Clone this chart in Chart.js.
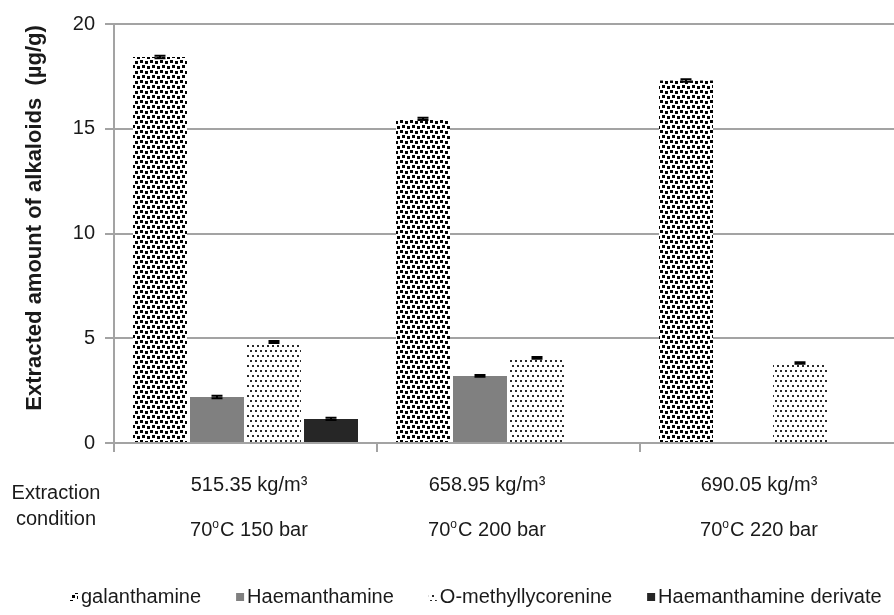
<!DOCTYPE html>
<html>
<head>
<meta charset="utf-8">
<style>
  html, body { margin: 0; padding: 0; background: #ffffff; overflow: hidden; }
  canvas { display: block; }
</style>
<script src="https://cdn.jsdelivr.net/npm/chart.js@4.4.1/dist/chart.umd.min.js"></script>
</head>
<body>
<canvas id="chart" width="912" height="615"></canvas>
<script>
// ---- data ----
const densities = ['515.35', '658.95', '690.05'];
const temperatures = [70, 70, 70];
const pressures = [150, 200, 220];
const rowTitle = ['Extraction', 'condition'];
const seriesNames = ['galanthamine', 'Haemanthamine', 'O-methyllycorenine', 'Haemanthamine derivate'];

const galanthamine = [18.42, 15.47, 17.30];
const haemanthamine = [2.20, 3.20, null];
const oMethyllycorenine = [4.82, 4.06, 3.82];
const haemanthamineDerivate = [1.15, null, null];

const galanthamineErr = [0.06, 0.05, 0.06];
const haemanthamineErr = [0.06, 0.04, null];
const oMethyllycorenineErr = [0.05, 0.04, 0.04];
const haemanthamineDerivateErr = [0.05, null, null];

const yTickValues = [0, 5, 10, 15, 20];
const yAxisTitle = 'Extracted amount of alkaloids  (\u00b5g/g)';

// ---- styling ----
const FONT = '"Liberation Sans", Arial, sans-serif';
const TEXT = '#1a1a1a';
const GRID = '#a3a3a3';

function makePattern(size, squares, sq, color) {
  const c = document.createElement('canvas');
  c.width = size; c.height = size;
  const g = c.getContext('2d');
  g.fillStyle = '#ffffff';
  g.fillRect(0, 0, size, size);
  g.fillStyle = color;
  squares.forEach(([x, y]) => g.fillRect(x, y, sq, sq));
  return g.createPattern(c, 'repeat');
}

const densePattern = makePattern(10, [[0, 0], [5, 1], [2, 5], [7, 6]], 3, '#000000');
const sparsePattern = makePattern(10, [[0, 0], [5, 0], [2, 5], [7, 5]], 2, '#2a2a2a');

const fills = [densePattern, '#808080', sparsePattern, '#262626'];
const values = [galanthamine, haemanthamine, oMethyllycorenine, haemanthamineDerivate];
const errors = [galanthamineErr, haemanthamineErr, oMethyllycorenineErr, haemanthamineDerivateErr];

const categories = densities.map(d => d + ' kg/m\u00b3');

// error bars with caps
const errorBars = {
  id: 'errorBars',
  afterDatasetsDraw(chart) {
    const ctx = chart.ctx;
    const y = chart.scales.y;
    ctx.save();
    ctx.strokeStyle = '#000000';
    ctx.lineWidth = 2;
    chart.data.datasets.forEach((ds, di) => {
      const meta = chart.getDatasetMeta(di);
      meta.data.forEach((bar, i) => {
        const v = ds.data[i];
        const e = errors[di][i];
        if (v == null || e == null) return;
        const top = y.getPixelForValue(v + e);
        const bot = y.getPixelForValue(v - e);
        const half = 5.5;
        ctx.beginPath();
        ctx.moveTo(bar.x, top); ctx.lineTo(bar.x, bot);
        ctx.moveTo(bar.x - half, top); ctx.lineTo(bar.x + half, top);
        ctx.moveTo(bar.x - half, bot); ctx.lineTo(bar.x + half, bot);
        ctx.stroke();
      });
    });
    ctx.restore();
  }
};

// axis title, condition rows, legend
const annotations = {
  id: 'annotations',
  afterDraw(chart) {
    const ctx = chart.ctx;
    const xs = chart.scales.x;
    ctx.save();
    ctx.fillStyle = TEXT;
    ctx.textBaseline = 'middle';

    // y-axis title
    ctx.save();
    ctx.translate(35, 218);
    ctx.rotate(-Math.PI / 2);
    ctx.textAlign = 'center';
    ctx.font = 'bold 22px ' + FONT;
    ctx.fillText(yAxisTitle, 0, 0);
    ctx.restore();

    // row heading
    ctx.textAlign = 'center';
    ctx.font = '20px ' + FONT;
    ctx.fillText(rowTitle[0], 56, 493);
    ctx.fillText(rowTitle[1], 56, 519);

    // condition rows under each category
    const shift = [3.5, -21.5, -12.5];
    categories.forEach((label, i) => {
      const cx = xs.getPixelForValue(i) + shift[i];
      ctx.textAlign = 'center';
      ctx.font = '20px ' + FONT;
      ctx.fillText(label, cx, 485);

      const a = String(temperatures[i]);
      const b = 'C ' + pressures[i] + ' bar';
      ctx.font = '20px ' + FONT;
      const wa = ctx.measureText(a).width;
      const wb = ctx.measureText(b).width;
      ctx.font = '12px ' + FONT;
      const wo = ctx.measureText('o').width + 1;
      let x = cx - (wa + wo + wb) / 2;
      ctx.textAlign = 'left';
      ctx.font = '20px ' + FONT;
      ctx.fillText(a, x, 530); x += wa;
      ctx.font = '12px ' + FONT;
      ctx.fillText('o', x, 525); x += wo;
      ctx.font = '20px ' + FONT;
      ctx.fillText(b, x, 530);
    });

    // legend
    ctx.font = '20px ' + FONT;
    ctx.textAlign = 'left';
    let lx = 70;
    const ly = 597;
    seriesNames.forEach((name, i) => {
      ctx.fillStyle = fills[i];
      ctx.fillRect(lx, ly - 4, 8, 8);
      ctx.fillStyle = TEXT;
      lx += 11;
      ctx.fillText(name, lx, ly);
      lx += ctx.measureText(name).width + 35;
    });
    ctx.restore();
  }
};

new Chart(document.getElementById('chart'), {
  type: 'bar',
  data: {
    labels: categories,
    datasets: seriesNames.map((name, i) => ({
      label: name,
      data: values[i],
      backgroundColor: fills[i],
      borderWidth: 0,
      categoryPercentage: 0.867,
      barPercentage: 0.947
    }))
  },
  options: {
    responsive: false,
    animation: false,
    devicePixelRatio: 1,
    layout: { padding: { top: 24, right: 9, left: 0, bottom: 0 } },
    plugins: {
      legend: { display: false },
      tooltip: { enabled: false },
      title: { display: false }
    },
    scales: {
      x: {
        offset: true,
        grid: {
          display: true,
          offset: true,
          drawOnChartArea: false,
          drawTicks: true,
          tickLength: 9,
          color: GRID,
          lineWidth: 2
        },
        border: { display: true, color: GRID, width: 2 },
        ticks: { display: false },
        afterFit(scale) { scale.height = 172; }
      },
      y: {
        min: 0,
        max: 20,
        afterBuildTicks(scale) { scale.ticks = yTickValues.map(v => ({ value: v })); },
        grid: {
          color: GRID,
          lineWidth: 2,
          drawTicks: true,
          tickLength: 9
        },
        border: { display: true, color: GRID, width: 2 },
        ticks: {
          padding: 10,
          color: TEXT,
          font: { family: FONT, size: 20 }
        },
        afterFit(scale) { scale.width = 114; }
      }
    }
  },
  plugins: [errorBars, annotations]
});
</script>
</body>
</html>
